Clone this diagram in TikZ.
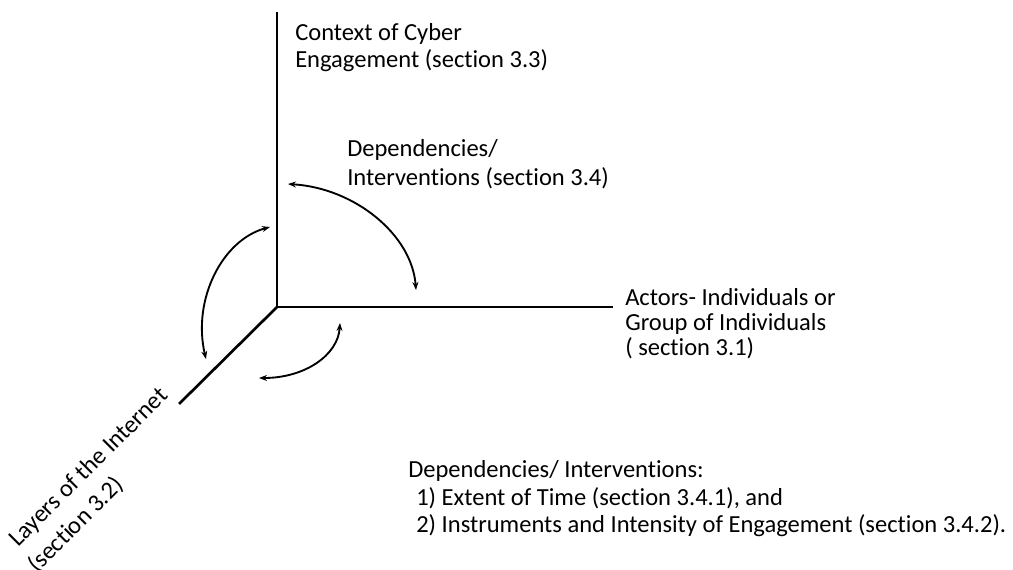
\documentclass[tikz,border=0pt]{standalone}
\usepackage{fontspec}
\setmainfont{Carlito}[Ligatures=NoCommon]
\usetikzlibrary{arrows.meta}
\begin{document}
\begin{tikzpicture}[x=0.75pt,y=-0.75pt,
  axis/.style={line width=2pt,line cap=rect},
  turn/.style={line width=1.4pt,{Stealth[length=6pt,width=4.5pt]}-{Stealth[length=6pt,width=4.5pt]}},
  lbl/.style={anchor=base west,inner sep=0pt,font=\fontsize{18.4}{21}\selectfont}]
\useasboundingbox (0,0) rectangle (1013,569);

% axes
\coordinate (O) at (277,307);
\coordinate (up) at (277,13);
\coordinate (right) at (612,307);
\coordinate (diag) at (180,403);
\draw[axis] (up) -- (O) -- (right);
\draw[axis] (O) -- (diag);

% turning arrows between the axes
\coordinate (a1) at (288,184);
\coordinate (a2) at (416,290);
\draw[turn] (a1) .. controls (355,188) and (412,235) .. (a2);
\coordinate (b1) at (270,227);
\coordinate (b2) at (206,359);
\draw[turn] (b1) .. controls (222,240) and (192,300) .. (b2);
\coordinate (c1) at (340,323);
\coordinate (c2) at (259,378);
\draw[turn] (c1) .. controls (338,355) and (305,378) .. (c2);

% labels
\node[lbl] (ctx1) at (295,40) {Context of Cyber};
\node[lbl] (ctx2) at (295,67) {Engagement (section 3.3)};
\node[lbl] (dep1) at (347,156) {Dependencies/};
\node[lbl] (dep2) at (347,185) {Interventions (section 3.4)};
\node[lbl] (act1) at (625,305) {Actors- Individuals or};
\node[lbl] (act2) at (625,330) {Group of Individuals};
\node[lbl] (act3) at (625,355) {( section 3.1)};
\node[lbl] (note1) at (408,477) {Dependencies/ Interventions:};
\node[lbl] (note2) at (416,505) {1) Extent of Time (section 3.4.1), and};
\node[lbl] (note3) at (416,532) {2) Instruments and Intensity of Engagement (section 3.4.2).};
\node[lbl,rotate=45] (lay1) at (18,548) {Layers of the Internet};
\node[lbl,rotate=45] (lay2) at (37,574) {(section 3.2)};
\end{tikzpicture}
\end{document}
